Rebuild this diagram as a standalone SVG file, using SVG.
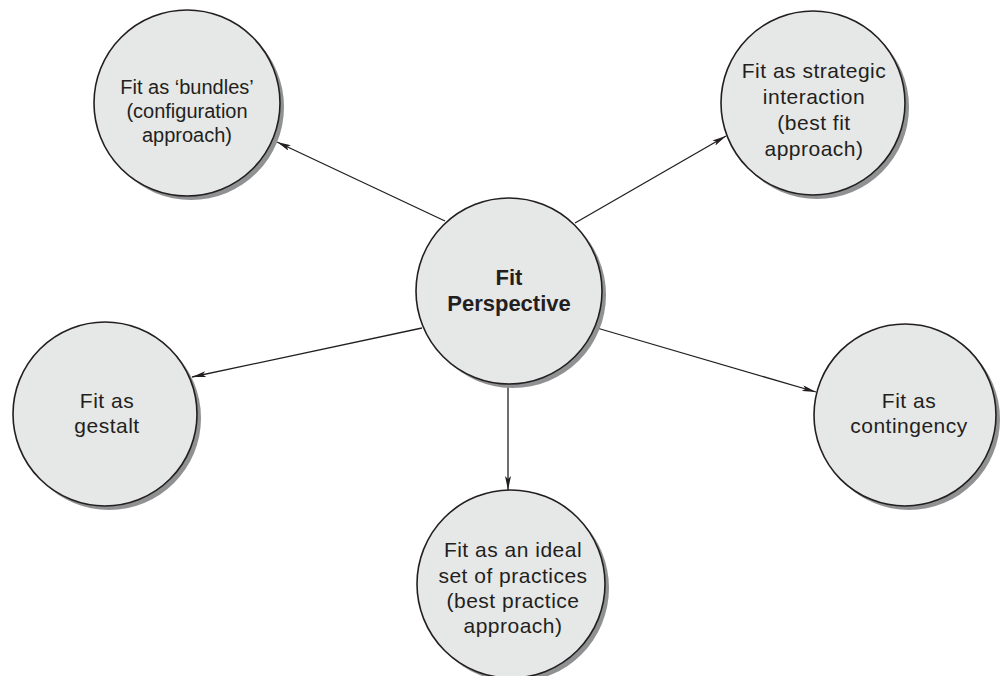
<svg xmlns="http://www.w3.org/2000/svg" width="1000" height="676" viewBox="0 0 1000 676">
  <defs>
    <style>
      .shadow { fill: #909193; }
      .node { fill: #e6e7e7; stroke: #231f20; stroke-width: 1.6; }
      .lbl { font-family: "Liberation Sans", Arial, sans-serif; font-size: 21px; letter-spacing: 0.5px; fill: #231f20; text-anchor: middle; }
      .sm { font-size: 20px; letter-spacing: 0; }
      .bold { font-weight: bold; font-size: 22px; letter-spacing: 0; }
      .conn { stroke: #231f20; stroke-width: 1.3; fill: none; marker-end: url(#arrow); }
    </style>
    <marker id="arrow" viewBox="0 0 14 6" refX="14" refY="3" markerWidth="14" markerHeight="6" markerUnits="userSpaceOnUse" orient="auto">
      <path d="M0,0 L14,3 L0,6 L3,3 Z" fill="#231f20"/>
    </marker>
  </defs>

  <g id="connectors">
    <line class="conn" x1="445" y1="221" x2="277" y2="142"/>
    <line class="conn" x1="575" y1="223" x2="726" y2="136"/>
    <line class="conn" x1="422" y1="328" x2="192" y2="377"/>
    <line class="conn" x1="597" y1="328" x2="816" y2="392"/>
    <line class="conn" x1="508" y1="384" x2="508" y2="490"/>
  </g>

  <g id="node-center">
    <circle class="shadow" cx="513" cy="295" r="93"/>
    <circle class="node" cx="509" cy="291" r="93"/>
    <text class="lbl bold" x="509" y="285">Fit</text>
    <text class="lbl bold" x="509" y="311">Perspective</text>
  </g>

  <g id="node-bundles">
    <circle class="shadow" cx="191" cy="107" r="93"/>
    <circle class="node" cx="187" cy="103" r="93"/>
    <text class="lbl sm" x="187" y="94">Fit as ‘bundles’</text>
    <text class="lbl sm" x="187" y="118">(configuration</text>
    <text class="lbl sm" x="187" y="142">approach)</text>
  </g>

  <g id="node-strategic">
    <circle class="shadow" cx="817" cy="107" r="92"/>
    <circle class="node" cx="813" cy="103" r="92"/>
    <text class="lbl" x="814" y="78">Fit as strategic</text>
    <text class="lbl" x="814" y="104">interaction</text>
    <text class="lbl" x="814" y="130">(best fit</text>
    <text class="lbl" x="814" y="156">approach)</text>
  </g>

  <g id="node-gestalt">
    <circle class="shadow" cx="109" cy="418" r="92"/>
    <circle class="node" cx="105" cy="414" r="92"/>
    <text class="lbl" x="107" y="408">Fit as</text>
    <text class="lbl" x="107" y="433">gestalt</text>
  </g>

  <g id="node-contingency">
    <circle class="shadow" cx="909" cy="419" r="91"/>
    <circle class="node" cx="905" cy="415" r="91"/>
    <text class="lbl" x="909" y="408">Fit as</text>
    <text class="lbl" x="909" y="433">contingency</text>
  </g>

  <g id="node-ideal">
    <circle class="shadow" cx="515" cy="588" r="94"/>
    <circle class="node" cx="511" cy="584" r="94"/>
    <text class="lbl" x="513" y="557">Fit as an ideal</text>
    <text class="lbl" x="513" y="583">set of practices</text>
    <text class="lbl" x="513" y="608">(best practice</text>
    <text class="lbl" x="513" y="633">approach)</text>
  </g>
</svg>
